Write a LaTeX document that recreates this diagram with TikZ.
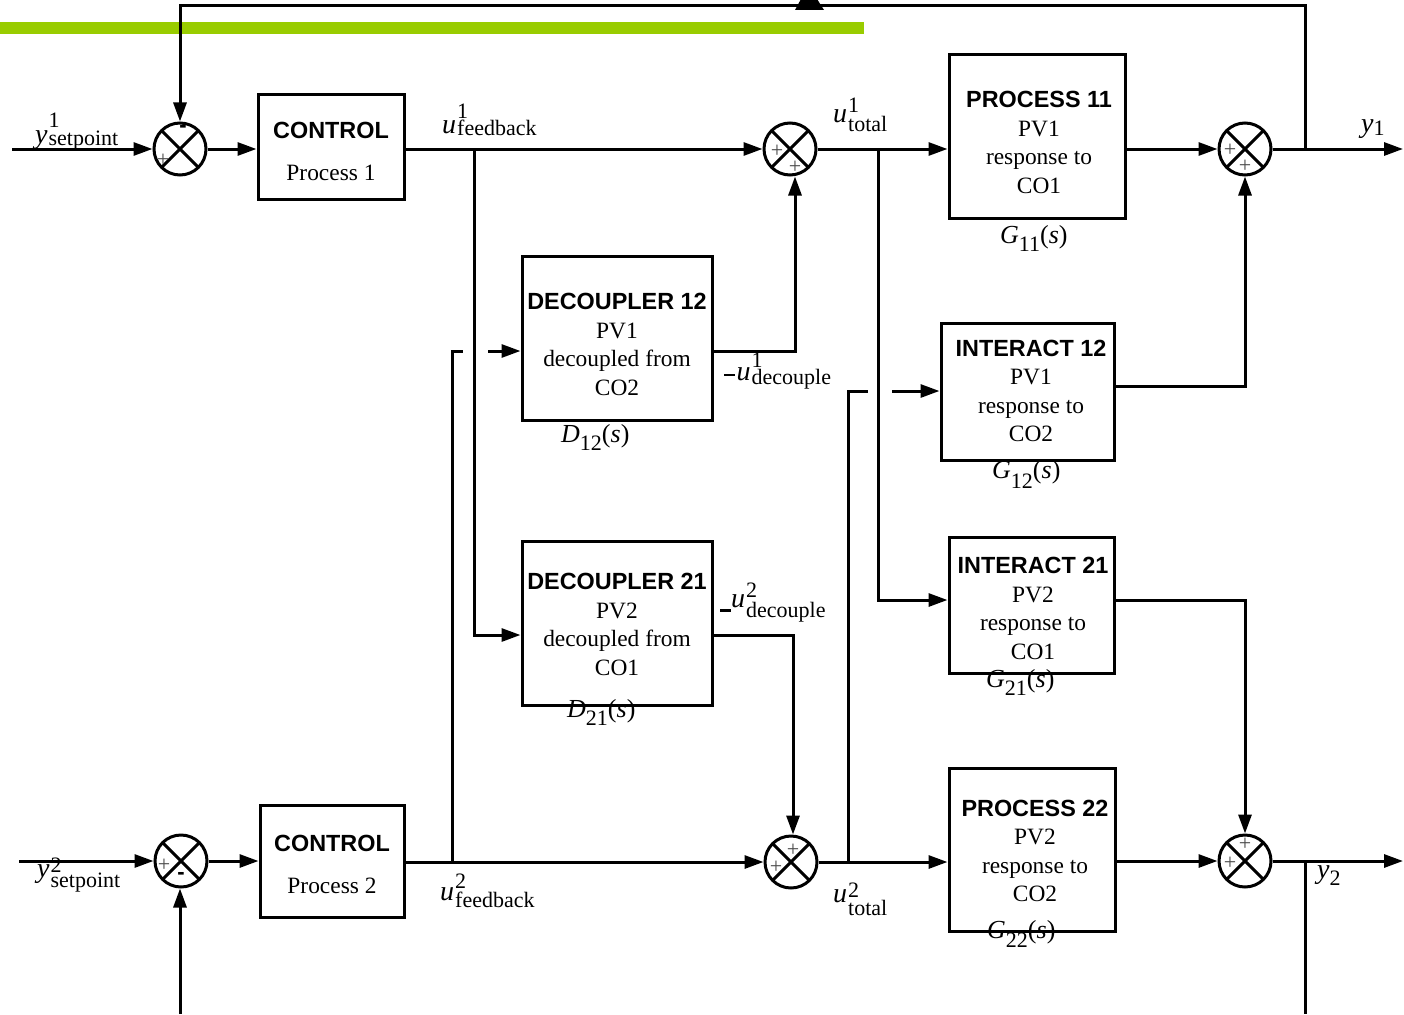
\documentclass[tikz,border=0pt]{standalone}
\usepackage{fontspec}
\setmainfont{Liberation Serif}
\newfontfamily\headfont{Liberation Sans}
\usetikzlibrary{arrows.meta,calc}

\definecolor{barGreen}{HTML}{99CC00}

% sizes for signal names and transfer functions
\newcommand\bigsz{\fontsize{26}{28}\selectfont}
\newcommand\letsz{\fontsize{28}{30}\selectfont}
\newcommand\smallsz{\fontsize{22}{24}\selectfont}
% signal: letter, superscript, subscript, raise of sup, drop of sub
\newcommand\sigvar[5]{{\letsz\itshape #1}\kern1pt\rlap{\raisebox{#4}{\smallsz #2}}\raisebox{-#5}{\smallsz #3}}
% transfer function: letter, index, drop of index
\newcommand\tfun[3]{{\bigsz\itshape #1}\raisebox{-#3}{\smallsz #2}{\bigsz(\textit{s})}}
% short thick dash in front of a decoupler signal
\newcommand\negdash[1]{\rule[#1]{11pt}{2.8pt}}

\begin{document}
\begin{tikzpicture}[x=1pt,y=-1pt,
  wire/.style={line width=3pt},
  arr/.style={-{Triangle[length=19pt,width=13pt]}},
  blk/.style={draw, line width=3pt, inner sep=0},
  btext/.style={align=center, inner sep=0, font=\fontsize{23.4}{28.4}\selectfont},
  sumnode/.style={circle, draw, line width=3pt, minimum size=52pt, inner sep=0,
    path picture={\draw[line width=3pt]
      (path picture bounding box.north west) -- (path picture bounding box.south east)
      (path picture bounding box.north east) -- (path picture bounding box.south west);}},
  sgn/.style={inner sep=0, text=black!70, font=\fontsize{22}{22}\selectfont},
  msgn/.style={inner sep=0, font=\fontsize{22}{22}\selectfont\headfont\bfseries},
  lbl/.style={anchor=base west, inner sep=0},
]
\useasboundingbox (0,0) rectangle (1404,1014);
\fill[white] (0,0) rectangle (1404,1014);

% header bar
\fill[barGreen] (0,22) rectangle (864,34);

% summing junctions
\node[sumnode] (s1) at (180,149) {};
\node[sumnode] (s2) at (790,149) {};
\node[sumnode] (s3) at (1245,149) {};
\node[sumnode] (s4) at (181,861) {};
\node[sumnode] (s5) at (791,862) {};
\node[sumnode] (s6) at (1245,861) {};

% blocks
\node[blk, minimum width=146pt, minimum height=104pt] (c1)  at (331,147) {};
\node[blk, minimum width=144pt, minimum height=112pt] (c2)  at (332,861) {};
\node[blk, minimum width=176pt, minimum height=163pt] (p11) at (1037,136.5) {};
\node[blk, minimum width=190pt, minimum height=164pt] (d12) at (617,338) {};
\node[blk, minimum width=173pt, minimum height=137pt] (i12) at (1027.5,391.5) {};
\node[blk, minimum width=165pt, minimum height=136pt] (i21) at (1031.5,605) {};
\node[blk, minimum width=190pt, minimum height=164pt] (d21) at (617,623) {};
\node[blk, minimum width=166pt, minimum height=163pt] (p22) at (1032,849.5) {};

% block texts
\node[btext] (c1t)  at (331,151) {{\headfont\bfseries CONTROL}\\[13.5pt]Process 1};
\node[btext] (c2t)  at (332,864) {{\headfont\bfseries CONTROL}\\[13.5pt]Process 2};
\node[btext] (p11t) at (1039,142.5) {{\headfont\bfseries PROCESS 11}\\PV1\\response to\\CO1};
\node[btext] (d12t) at (617,344.5) {{\headfont\bfseries DECOUPLER 12}\\PV1\\decoupled from\\CO2};
\node[btext] (i12t) at (1031,391) {{\headfont\bfseries INTERACT 12}\\PV1\\response to\\CO2};
\node[btext] (i21t) at (1033,608.5) {{\headfont\bfseries INTERACT 21}\\PV2\\response to\\CO1};
\node[btext] (d21t) at (617,624.5) {{\headfont\bfseries DECOUPLER 21}\\PV2\\decoupled from\\CO1};
\node[btext] (p22t) at (1035,851) {{\headfont\bfseries PROCESS 22}\\PV2\\response to\\CO2};

% transfer functions
\node[lbl] (g11) at (1000,243) {\tfun{G}{11}{8pt}};
\node[lbl] (g12) at (992,478) {\tfun{G}{12}{10pt}};
\node[lbl] (g21) at (986,687) {\tfun{G}{21}{8pt}};
\node[lbl] (g22) at (987,938) {\tfun{G}{22}{9pt}};
\node[lbl] (fd12) at (561,442) {\tfun{D}{12}{8pt}};
\node[lbl] (fd21) at (567,717) {\tfun{D}{21}{8pt}};

% signal names
\node[lbl] (ly1)  at (35,143)  {\sigvar{y}{1}{setpoint}{16pt}{2pt}};
\node[lbl] (luf1) at (442,133) {\sigvar{u}{1}{feedback}{14pt}{2pt}};
\node[lbl] (lut1) at (833,123) {\sigvar{u}{1}{total}{10pt}{9pt}};
\node[lbl] (lyo1) at (1361,132) {{\letsz\itshape y}\raisebox{-3pt}{\smallsz 1}};
\node[lbl] (lud1) at (724,380) {\negdash{3.7pt}\kern1.5pt\sigvar{u}{1}{decouple}{13pt}{4pt}};
\node[lbl] (lud2) at (720,607) {\negdash{-5pt}\sigvar{u}{2}{decouple}{10pt}{10pt}};
\node[lbl] (ly2)  at (37,877)  {\sigvar{y}{2}{setpoint}{5pt}{10pt}};
\node[lbl] (luf2) at (440,900) {\sigvar{u}{2}{feedback}{12pt}{7pt}};
\node[lbl] (lut2) at (833,902) {\sigvar{u}{2}{total}{5pt}{13pt}};
\node[lbl] (lyo2) at (1317,878) {{\letsz\itshape y}\raisebox{-7pt}{\smallsz 2}};

% branch points and bends
\coordinate (in1) at (12,149);
\coordinate (in2) at (19,861);
\coordinate (j1) at (474,149);
\coordinate (j2) at (878,149);
\coordinate (j3) at (452,861);
\coordinate (j4) at (848,862);
\coordinate (j5) at (1305,149);
\coordinate (j6) at (1305,861);
\coordinate (top1) at (1305,6);
\coordinate (top2) at (180,6);
\coordinate (fb2) at (180,1014);
\coordinate (end2) at (1305,1014);
\coordinate (out1) at (1403,149);
\coordinate (out2) at (1403,861);
\coordinate (k1) at (452,351);
\coordinate (g1a) at (463,351);
\coordinate (g1b) at (488,351);
\coordinate (k2) at (795,351);
\coordinate (k3) at (848,391);
\coordinate (g2a) at (868,391);
\coordinate (g2b) at (892,391);
\coordinate (k4) at (878,600);
\coordinate (k5) at (474,635);
\coordinate (k6) at (793,635);
\coordinate (k7) at (1245,386);
\coordinate (k8) at (1245,600);

% loop 1
\draw[wire,arr] (in1) -- (s1.west);
\draw[wire,arr] (s1.east) -- (c1.west |- s1);
\draw[wire,arr] (c1.east |- s2) -- (s2.west);
\draw[wire,arr] (s2.east) -- (p11.west |- s2);
\draw[wire,arr] (p11.east |- s3) -- (s3.west);
\draw[wire,arr] (s3.east) -- (out1);
\draw[wire,arr] (j5) -- (top1) -- (top2) -- (s1.north);

% loop 2
\draw[wire,arr] (in2) -- (s4.west);
\draw[wire,arr] (fb2) -- (fb2 |- s4.south);
\draw[wire,arr] (s4.east) -- (c2.west |- s4);
\draw[wire,arr] (c2.east |- s5) -- (s5.west);
\draw[wire,arr] (s5.east) -- (p22.west |- s5);
\draw[wire,arr] (p22.east |- s6) -- (s6.west);
\draw[wire,arr] (s6.east) -- (out2);
\draw[wire] (j6) -- (end2);

% decouplers
\draw[wire,arr] (j1) -- (k5) -- (d21.west |- k5);
\draw[wire] (j3) -- (k1) -- (g1a);
\draw[wire,arr] (g1b) -- (d12.west |- g1b);
\draw[wire,arr] (d12.east |- k2) -- (k2) -- (k2 |- s2.south);
\draw[wire,arr] (d21.east |- k6) -- (k6) -- (k6 |- s5.north);

% interactions
\draw[wire,arr] (j2) -- (k4) -- (i21.west |- k4);
\draw[wire] (j4) -- (k3) -- (g2a);
\draw[wire,arr] (g2b) -- (i12.west |- g2b);
\draw[wire,arr] (i12.east |- k7) -- (k7) -- (k7 |- s3.south);
\draw[wire,arr] (i21.east |- k8) -- (k8) -- (k8 |- s6.north);

% signs inside the junctions
\node[msgn] (s1m) at ([shift={(3,-20)}]s1.center) {-};
\node[sgn]  (s1p) at ([shift={(-17,11)}]s1.center) {+};
\node[sgn]  (s2a) at ([shift={(-13,2)}]s2.center) {+};
\node[sgn]  (s2b) at ([shift={(5,18)}]s2.center) {+};
\node[sgn]  (s3a) at ([shift={(-15,1)}]s3.center) {+};
\node[sgn]  (s3b) at ([shift={(0,17)}]s3.center) {+};
\node[sgn]  (s4p) at ([shift={(-17,4)}]s4.center) {+};
\node[msgn] (s4m) at ([shift={(0,15)}]s4.center) {-};
\node[sgn]  (s5a) at ([shift={(-15,5)}]s5.center) {+};
\node[sgn]  (s5b) at ([shift={(2,-12)}]s5.center) {+};
\node[sgn]  (s6a) at ([shift={(-15,2)}]s6.center) {+};
\node[sgn]  (s6b) at ([shift={(0,-17)}]s6.center) {+};

% marker on the top line
\begin{scope}
\clip (0,0) rectangle (1404,1014);
\fill (795,10) -- (824,10) -- (817,-1) -- (801,-1) -- cycle;
\end{scope}
\end{tikzpicture}
\end{document}
